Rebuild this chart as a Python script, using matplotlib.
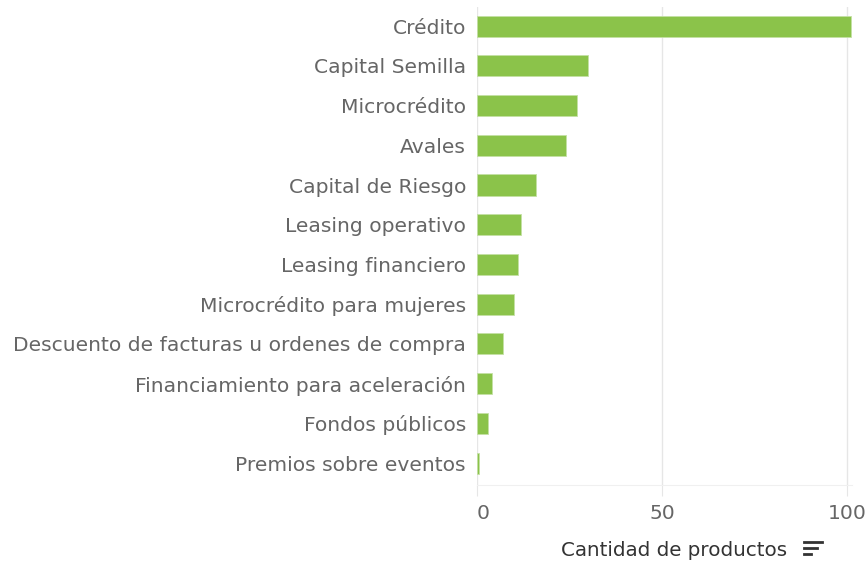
import numpy as np
import matplotlib.pyplot as plt
from matplotlib.lines import Line2D

# datos
categorias = ["Crédito", "Capital Semilla", "Microcrédito", "Avales",
              "Capital de Riesgo", "Leasing operativo", "Leasing financiero",
              "Microcrédito para mujeres",
              "Descuento de facturas u ordenes de compra",
              "Financiamiento para aceleración", "Fondos públicos",
              "Premios sobre eventos"]
cantidad = [101, 30, 27, 24, 16, 12, 11, 10, 7, 4, 3, 0.5]
xticks = [0, 50, 100]

plt.rcParams['font.family'] = ['DejaVu Sans']

fig = plt.figure(figsize=(8.68, 5.63), dpi=100, facecolor="w")
ax = fig.add_axes([477/868, 1-485/563, (852-477)/868, (485-7)/563])

y = np.arange(len(categorias))
ax.barh(y, cantidad, height=0.53, color="#8bc34a", edgecolor="#c5e1a5",
        linewidth=0.6, zorder=3)

ax.set_ylim(len(categorias)-1+0.55, -0.48)
ax.set_xlim(0, 101.3)
ax.set_yticks(y)
ax.set_yticklabels(categorias, fontsize=14.6, color="#666666")
ax.set_xticks(xticks)
ax.set_xticklabels([str(t) for t in xticks], fontsize=14.6, color="#666666")
ax.get_xticklabels()[0].set_ha("left")

ax.tick_params(axis="y", length=0, pad=8)
ax.tick_params(axis="x", length=8, color="#e6e6e6", pad=6)
ax.grid(axis="x", color="#e6e6e6", linewidth=1, zorder=0)
for s in ["top", "right", "left"]:
    ax.spines[s].set_visible(False)
ax.spines["bottom"].set_color("#f0f0f0")

# titulo del eje con icono de orden
fig.text(561/868, 1-551/563, "Cantidad de productos", fontsize=14.3,
         color="#333333", ha="left", va="center")
for i, w in enumerate([18, 13, 7]):
    yy = 1-(542+i*6)/563
    fig.add_artist(Line2D([804/868, (804+w)/868], [yy, yy], color="#333333",
                          linewidth=2, transform=fig.transFigure))

plt.savefig("out.png", dpi=100)
